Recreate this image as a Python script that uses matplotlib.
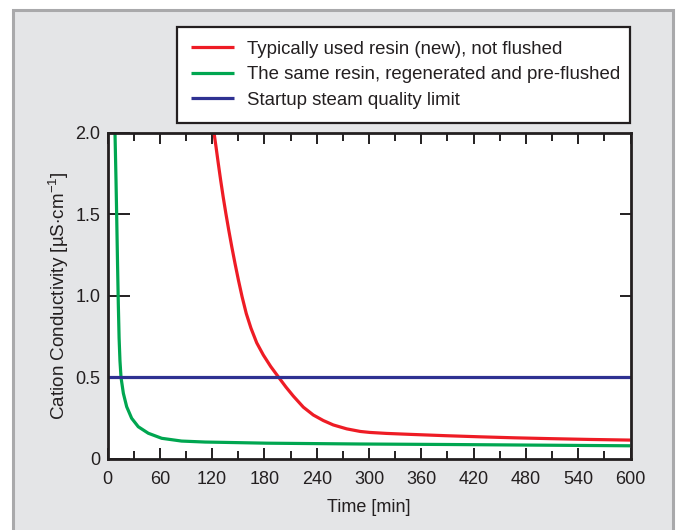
import matplotlib
matplotlib.use("Agg")
import matplotlib.pyplot as plt
from matplotlib.patches import Rectangle
from matplotlib.ticker import MultipleLocator
import numpy as np

plt.rcParams['font.family'] = ['Liberation Sans', 'DejaVu Sans']
plt.rcParams['mathtext.fontset'] = 'custom'
plt.rcParams['mathtext.rm'] = 'Liberation Sans'

# Data
red_t = [122.2, 124.5, 127.1, 129.8, 132.7, 135.8, 139.1, 142.6, 146.3, 150.2, 154.4,
         159.2, 164.6, 171.2, 178.8, 187.2, 196.7, 204.8, 213.2, 224.7, 236.1, 247.6,
         259, 274.4, 290, 301, 320, 348, 388, 428, 467, 507, 553, 600]
red_v = [2.0, 1.913, 1.811, 1.709, 1.606, 1.504, 1.402, 1.299, 1.197, 1.095, 0.993,
         0.890, 0.80, 0.71, 0.635, 0.565, 0.496, 0.438, 0.383, 0.315, 0.267, 0.233,
         0.206, 0.182, 0.166, 0.16, 0.154, 0.148, 0.14, 0.133, 0.127, 0.122, 0.117, 0.113]
green_t = [8.6, 9.75, 10.5, 11.5, 12.4, 13.3, 14.3, 15.5, 18.2, 22, 27.7, 35.3, 46.8,
           62.2, 85, 112, 133, 183, 290, 388, 600]
green_v = [2.0, 1.71, 1.50, 1.2, 0.95, 0.74, 0.6, 0.498, 0.40, 0.318, 0.247, 0.195, 0.155,
           0.124, 0.107, 0.101, 0.099, 0.094, 0.089, 0.086, 0.078]
limit_t = [0, 600]
limit_v = [0.5, 0.5]

labels = ["Typically used resin (new), not flushed",
          "The same resin, regenerated and pre-flushed",
          "Startup steam quality limit"]
colors = ["#ee1c25", "#00a650", "#2e3192"]
xticks = [0, 60, 120, 180, 240, 300, 360, 420, 480, 540, 600]
yticks = [0, 0.5, 1.0, 1.5, 2.0]
ytick_labels = ["0", "0.5", "1.0", "1.5", "2.0"]

W, H = 676, 530
FS = 13
fig = plt.figure(figsize=(W / 100, H / 100), dpi=100)
fig.patch.set_facecolor("white")
frame = Rectangle((13 / W, -0.05), (673 - 13) / W, (H - 10) / H + 0.05,
                  transform=fig.transFigure, facecolor="#e4e5e7",
                  edgecolor="#a9a9ab", linewidth=2.2, zorder=-10)
fig.patches.append(frame)

ax = fig.add_axes([107.5 / W, 1 - 458.5 / H, (630.5 - 107.5) / W, (458.5 - 132.7) / H])
ax.set_zorder(1)
ax.set_facecolor("white")

l1, = ax.plot(red_t, red_v, color=colors[0], lw=2.3, solid_capstyle="butt", solid_joinstyle="round")
l2, = ax.plot(green_t, green_v, color=colors[1], lw=2.3, solid_capstyle="butt", solid_joinstyle="round")
l3, = ax.plot(limit_t, limit_v, color=colors[2], lw=2.3, solid_capstyle="butt")

ax.set_xlim(0, 600)
ax.set_ylim(0, 2.0)
ax.set_xticks(xticks)
ax.xaxis.set_minor_locator(MultipleLocator(30))
ax.set_yticks(yticks)
ax.set_yticklabels(ytick_labels)

for s in ax.spines.values():
    s.set_linewidth(2.0)
    s.set_color("#231f20")

ax.tick_params(axis="x", which="major", direction="in", length=8, width=1.4,
               top=True, color="#231f20", labelsize=FS, pad=9)
ax.tick_params(axis="x", which="minor", direction="in", length=5.8, width=1.4,
               top=True, color="#231f20")
ax.tick_params(axis="y", which="major", direction="in", length=16, width=1.4,
               left=True, right=False, color="#231f20", labelsize=FS, pad=5)
# right y ticks (shorter)
ax2 = ax.secondary_yaxis("right")
ax2.set_yticks([0.5, 1.0, 1.5])
ax2.tick_params(direction="in", length=8, width=1.4, color="#231f20", labelright=False)
ax2.spines["right"].set_visible(False)

ax.set_xlabel("Time [min]", fontsize=FS, labelpad=8, color="#231f20")
ax.set_ylabel(r"Cation Conductivity [µS$\cdot$cm$^{-1}$]", fontsize=13.6, labelpad=3, color="#231f20")
for t in ax.get_xticklabels() + ax.get_yticklabels():
    t.set_color("#231f20")

leg = fig.legend([l1, l2, l3], labels, loc="upper left", mode="expand",
                 bbox_to_anchor=(177 / W, 1 - 124 / H, 453 / W, 97 / H),
                 bbox_transform=fig.transFigure,
                 fontsize=13.4, frameon=True, fancybox=False, handlelength=2.3,
                 handletextpad=0.7, labelspacing=0.45, borderpad=0.75, borderaxespad=0)
leg.set_zorder(5)
leg.get_frame().set_edgecolor("#231f20")
leg.get_frame().set_linewidth(1.6)
leg.get_frame().set_facecolor("white")
leg.get_frame().set_alpha(1)
for t in leg.get_texts():
    t.set_color("#231f20")

fig.savefig("out.png", dpi=100)
